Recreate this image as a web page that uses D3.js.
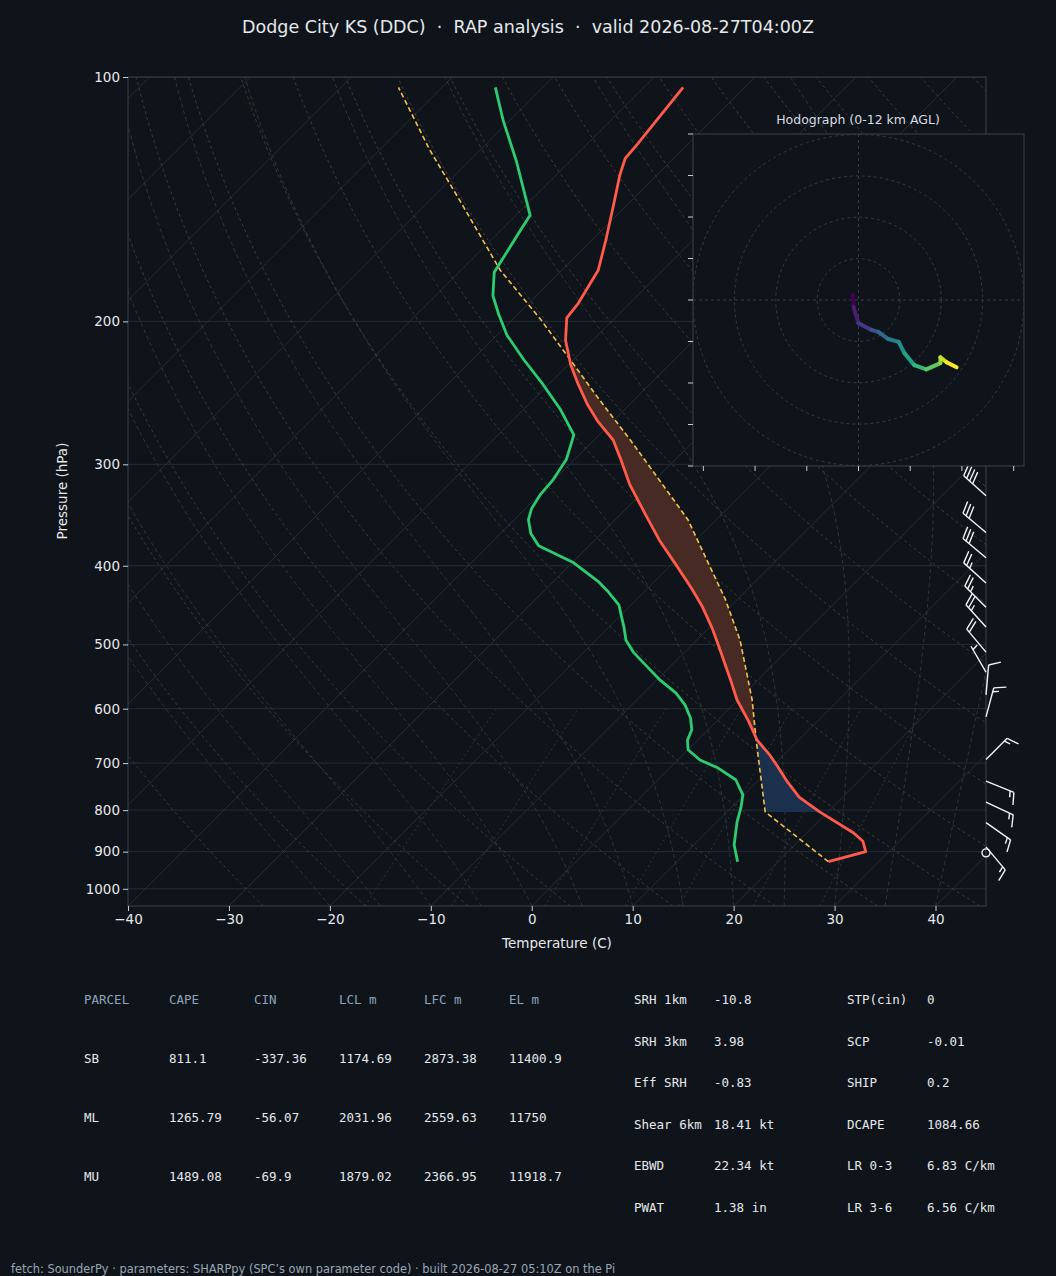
<!DOCTYPE html>
<html>
<head>
<meta charset="utf-8">
<script src="https://d3js.org/d3.v7.min.js"></script>
<style>
  html, body { margin: 0; padding: 0; background: #0f141b; }
  svg { display: block; }
  text { font-family: 'DejaVu Sans', sans-serif; }
  .mono { font-family: 'DejaVu Sans Mono', monospace; font-size: 12.5px; }
</style>
</head>
<body>
<svg id="chart" width="1056" height="1276"></svg>
<script>
  /* sounding: pressure (hPa), temperature (C) */
  const sounding = {
    temp: [[926,25.0],[900,27.7],[874,26.4],[853,24.6],[804,19.2],[771,15.7],[738,13.0],[704,10.3],[684,8.6],[656,5.9],[622,3.2],[585,-0.1],[553,-2.7],[508,-6.7],[477,-9.7],[448,-12.9],[426,-15.7],[399,-19.5],[372,-23.6],[346,-27.5],[318,-32.0],[296,-35.4],[280,-38.1],[265,-41.6],[253,-44.2],[239,-47.1],[226,-49.8],[211,-52.7],[198,-54.8],[190,-55.1],[173,-56.4],[159,-58.6],[144,-61.3],[132,-63.7],[126,-64.8],[121,-65.0],[103,-66.1]],
    dewp: [[926,16.0],[883,14.0],[827,12.0],[795,11.0],[766,9.9],[734,7.7],[710,4.8],[694,2.2],[674,0.0],[656,-1.0],[637,-1.6],[616,-2.9],[594,-4.7],[574,-6.8],[553,-9.7],[534,-12.1],[511,-15.1],[494,-17.0],[476,-18.5],[447,-21.2],[431,-23.5],[418,-25.6],[396,-30.0],[378,-35.0],[365,-37.0],[351,-38.6],[340,-39.4],[327,-39.9],[314,-40.1],[296,-40.8],[276,-42.5],[257,-46.3],[239,-50.6],[223,-54.9],[208,-59.0],[196,-61.9],[186,-64.3],[174,-66.5],[154,-68.1],[148,-68.6],[127,-75.3],[113,-80.7],[103,-84.7]],
    parcel: [[926,25.0],[804,13.8],[656,5.8],[585,1.4],[494,-5.7],[440,-11.2],[393,-17.0],[351,-22.8],[314,-29.5],[280,-36.4],[250,-43.4],[223,-50.3],[199,-57.2],[173,-66.1],[142,-77.0],[123,-85.0],[103,-94.3]],
    lcl: 804,
    el: 226,
    // [pressure, direction from (deg), speed kt]
    wind: [[903,0,0],[888,140,15],[829,125,15],[782,115,15],[737,112,15],[693,45,15],[614,15,15],[577,5,10],[541,330,5],[511,320,20],[476,318,25],[450,315,25],[420,312,25],[391,310,30],[364,310,30],[328,312,40]],
    // hodograph u, v (0-12 km)
    hodo: [[-1.4,1.2],[-1.2,-1.7],[0,-5.6],[3.1,-7.2],[4.8,-7.7],[7.2,-9.4],[9.7,-10.1],[11.1,-12.8],[13.5,-15.7],[16.4,-16.7],[19.8,-15.2],[19.8,-13.8],[21.3,-15.0],[23.7,-16.2]]
  };

  const parcels = [
    ['SB','811.1','-337.36','1174.69','2873.38','11400.9'],
    ['ML','1265.79','-56.07','2031.96','2559.63','11750'],
    ['MU','1489.08','-69.9','1879.02','2366.95','11918.7']
  ];
  const params = [
    ['SRH 1km','-10.8','STP(cin)','0'],
    ['SRH 3km','3.98','SCP','-0.01'],
    ['Eff SRH','-0.83','SHIP','0.2'],
    ['Shear 6km','18.41 kt','DCAPE','1084.66'],
    ['EBWD','22.34 kt','LR 0-3','6.83 C/km'],
    ['PWAT','1.38 in','LR 3-6','6.56 C/km']
  ];

  const svg = d3.select('#chart');
  svg.append('rect').attr('width',1056).attr('height',1276).attr('fill','#0f141b');

  const L = 128, R = 986, T = 77, B = 906;
  const xT = d3.scaleLinear().domain([-40,45]).range([L,R]);
  const yP = d3.scaleLog().domain([1050,100]).range([B,T]);
  const sx = (t,p) => xT(t) + (B - yP(p));

  svg.append('text').attr('x',528).attr('y',33).attr('text-anchor','middle')
    .attr('fill','#e6e8eb').attr('font-size',17.5).attr('xml:space','preserve')
    .text('Dodge City KS (DDC)\u00a0 · \u00a0RAP analysis\u00a0 · \u00a0valid 2026-08-27T04:00Z');

  svg.append('clipPath').attr('id','clip').append('rect')
    .attr('x',L).attr('y',T).attr('width',R-L).attr('height',B-T);
  const g = svg.append('g').attr('clip-path','url(#clip)');

  const line = d3.line().x(d => sx(d[1],d[0])).y(d => yP(d[0]));
  const pGrid = d3.range(0,61).map(i => 1050*Math.pow(100/1050,i/60));

  // isobars
  [100,200,300,400,500,600,700,800,900,1000].forEach(p => {
    g.append('line').attr('x1',L).attr('x2',R).attr('y1',yP(p)).attr('y2',yP(p))
      .attr('stroke','#252c35').attr('stroke-width',1);
  });
  // isotherms
  d3.range(-130,60,10).forEach(t => {
    g.append('path').attr('d',line([[1050,t],[100,t]]))
      .attr('stroke','#262d36').attr('stroke-width',1).attr('fill','none');
  });
  // dry adiabats
  d3.range(-30,200,10).forEach(th => {
    const pts = pGrid.map(p => [p,(th+273.15)*Math.pow(p/1000,0.2857)-273.15]);
    g.append('path').attr('d',line(pts)).attr('fill','none')
      .attr('stroke','#4a3e30').attr('stroke-width',0.9).attr('stroke-dasharray','3,3');
  });
  // moist adiabats
  function rs(tc,p){ const e = 6.112*Math.exp(17.67*tc/(tc+243.5)); return 0.622*e/(p-e); }
  function moist(t0){
    const out = [[1050,t0]]; let t = t0+273.15, p = 1050;
    while (p > 100){
      const r = rs(t-273.15,p);
      const dTdp = (287*t + 2.5e6*r)/(p*(1004 + 2.5e6*2.5e6*r*0.622/(287*t*t)));
      const dp = -5; t += dTdp*dp; p += dp; out.push([p,t-273.15]);
    }
    return out;
  }
  d3.range(-20,45,5).forEach(t0 => {
    g.append('path').attr('d',line(moist(t0))).attr('fill','none')
      .attr('stroke','#2c4038').attr('stroke-width',0.9).attr('stroke-dasharray','4,3');
  });
  // mixing ratio lines
  [1,2,4,7,10,16,24].forEach(w => {
    const pts = d3.range(1050,590,-10).map(p => {
      const e = w*p/(622+w), a = Math.log(e/6.112);
      return [p,243.5*a/(17.67-a)];
    });
    g.append('path').attr('d',line(pts)).attr('fill','none')
      .attr('stroke','#34404c').attr('stroke-width',0.8).attr('stroke-dasharray','2,3');
  });

  // CAPE / CIN shading between LCL and EL
  function interp(arr,p){
    for (let i=0;i<arr.length-1;i++){
      const a=arr[i], b=arr[i+1];
      if (p<=a[0] && p>=b[0]){
        const f=(Math.log(p)-Math.log(a[0]))/(Math.log(b[0])-Math.log(a[0]));
        return a[1]+f*(b[1]-a[1]);
      }
    }
    return NaN;
  }
  const shadeP = d3.range(0,301).map(i => sounding.lcl*Math.pow(sounding.el/sounding.lcl,i/300));
  let seg = [], sign = 0;
  function flush(){
    if (seg.length>1){
      const poly = seg.map(d => [sx(d[1],d[0]),yP(d[0])])
        .concat(seg.slice().reverse().map(d => [sx(d[2],d[0]),yP(d[0])]));
      g.append('path').attr('d','M'+poly.join('L')+'Z')
        .attr('fill', sign>0 ? '#4a2b24' : '#1b3250').attr('opacity',0.95);
    }
    seg = [];
  }
  shadeP.forEach(p => {
    const tp = interp(sounding.parcel,p), te = interp(sounding.temp,p);
    const s = tp>te ? 1 : -1;
    if (s!==sign){ if (seg.length) seg.push([p,tp,te]); flush(); sign=s; }
    seg.push([p,tp,te]);
  });
  flush();

  g.append('path').attr('d',line(sounding.parcel)).attr('fill','none')
    .attr('stroke','#f2c14e').attr('stroke-width',1.6).attr('stroke-dasharray','5,3');
  g.append('path').attr('d',line(sounding.dewp)).attr('fill','none')
    .attr('stroke','#2ecc71').attr('stroke-width',2.8).attr('stroke-linejoin','round');
  g.append('path').attr('d',line(sounding.temp)).attr('fill','none')
    .attr('stroke','#ff5a4a').attr('stroke-width',2.8).attr('stroke-linejoin','round');

  // frame and axes
  svg.append('rect').attr('x',L).attr('y',T).attr('width',R-L).attr('height',B-T)
    .attr('fill','none').attr('stroke','#39424e');
  const yAxis = svg.append('g').attr('transform',`translate(${L},0)`)
    .call(d3.axisLeft(yP).tickValues([100,200,300,400,500,600,700,800,900,1000]).tickFormat(d3.format('d')).tickSize(5));
  const xAxis = svg.append('g').attr('transform',`translate(0,${B})`)
    .call(d3.axisBottom(xT).tickValues(d3.range(-40,41,10)).tickFormat(d => d<0 ? '\u2212'+(-d) : d).tickSize(5));
  [yAxis,xAxis].forEach(a => {
    a.select('.domain').remove();
    a.selectAll('line').attr('stroke','#c8ccd2');
    a.selectAll('text').attr('fill','#e6e8eb').attr('font-size',13.5).attr('font-family','DejaVu Sans');
  });
  svg.append('text').attr('x',557).attr('y',948).attr('text-anchor','middle')
    .attr('fill','#e6e8eb').attr('font-size',13.5).text('Temperature (C)');
  svg.append('text').attr('transform','translate(67,491) rotate(-90)').attr('text-anchor','middle')
    .attr('fill','#e6e8eb').attr('font-size',13.5).text('Pressure (hPa)');

  // wind barbs along the right edge
  const bg = svg.append('g').attr('stroke','#f2f4f6').attr('stroke-width',1.4).attr('fill','none');
  sounding.wind.forEach(([p,dir,spd]) => {
    const x0 = R, y0 = yP(p);
    if (spd < 2.5){ bg.append('circle').attr('cx',x0).attr('cy',y0).attr('r',4); return; }
    const a = dir*Math.PI/180, len = 30;
    const ux = Math.sin(a), uy = -Math.cos(a);
    const fx = -uy, fy = ux;
    bg.append('line').attr('x1',x0).attr('y1',y0).attr('x2',x0+ux*len).attr('y2',y0+uy*len);
    let s = Math.round(spd/5)*5, pos = len;
    const full = 12;
    while (s>=10){
      const bx = x0+ux*pos, by = y0+uy*pos;
      bg.append('line').attr('x1',bx).attr('y1',by)
        .attr('x2',bx+fx*full+ux*4).attr('y2',by+fy*full+uy*4);
      pos -= 4; s -= 10;
    }
    if (s>=5){
      if (pos===len) pos -= 4;
      const bx = x0+ux*pos, by = y0+uy*pos;
      bg.append('line').attr('x1',bx).attr('y1',by)
        .attr('x2',bx+fx*full/2+ux*2).attr('y2',by+fy*full/2+uy*2);
    }
  });

  // hodograph inset
  const hx0 = 693, hx1 = 1024, hy0 = 134, hy1 = 466;
  const hu = d3.scaleLinear().domain([-40,40]).range([hx0,hx1]);
  const hv = d3.scaleLinear().domain([-40,40]).range([hy1,hy0]);
  const h = svg.append('g');
  h.append('rect').attr('x',hx0).attr('y',hy0).attr('width',hx1-hx0).attr('height',hy1-hy0)
    .attr('fill','#0f141b').attr('stroke','#39424e');
  h.append('text').attr('x',858).attr('y',124).attr('text-anchor','middle')
    .attr('fill','#d8dbe0').attr('font-size',12.5).text('Hodograph (0-12 km AGL)');
  h.append('clipPath').attr('id','hclip').append('rect')
    .attr('x',hx0).attr('y',hy0).attr('width',hx1-hx0).attr('height',hy1-hy0);
  const hg = h.append('g').attr('clip-path','url(#hclip)');
  [10,20,30,40].forEach(r => {
    hg.append('circle').attr('cx',hu(0)).attr('cy',hv(0)).attr('r',hu(r)-hu(0))
      .attr('fill','none').attr('stroke','#333d49').attr('stroke-dasharray','3,3');
  });
  hg.append('line').attr('x1',hx0).attr('x2',hx1).attr('y1',hv(0)).attr('y2',hv(0))
    .attr('stroke','#333d49').attr('stroke-dasharray','3,3');
  hg.append('line').attr('y1',hy0).attr('y2',hy1).attr('x1',hu(0)).attr('x2',hu(0))
    .attr('stroke','#333d49').attr('stroke-dasharray','3,3');
  d3.range(-40,41,10).forEach(v => {
    h.append('line').attr('x1',hx0-5).attr('x2',hx0).attr('y1',hv(v)).attr('y2',hv(v)).attr('stroke','#c8ccd2');
  });
  d3.range(-37.5,38,12.5).forEach(u => {
    h.append('line').attr('x1',hu(u)).attr('x2',hu(u)).attr('y1',hy1).attr('y2',hy1+5).attr('stroke','#c8ccd2');
  });
  const hd = sounding.hodo, n = hd.length;
  for (let i=0;i<n-1;i++){
    hg.append('line').attr('x1',hu(hd[i][0])).attr('y1',hv(hd[i][1]))
      .attr('x2',hu(hd[i+1][0])).attr('y2',hv(hd[i+1][1]))
      .attr('stroke',d3.interpolateViridis(i/(n-2))).attr('stroke-width',4).attr('stroke-linecap','round');
  }

  // parcel table
  const tb = svg.append('g');
  const cols = [84,169,254,339,424,509];
  ['PARCEL','CAPE','CIN','LCL m','LFC m','EL m'].forEach((t,i) => {
    tb.append('text').attr('class','mono').attr('x',cols[i]).attr('y',1004).attr('fill','#8fa3bb').text(t);
  });
  parcels.forEach((row,r) => row.forEach((t,i) => {
    tb.append('text').attr('class','mono').attr('x',cols[i]).attr('y',1063+r*59).attr('fill','#e6e8eb').text(t);
  }));
  params.forEach((row,r) => {
    [634,714,847,927].forEach((x,i) => {
      tb.append('text').attr('class','mono').attr('x',x).attr('y',1004+r*41.5).attr('fill','#e6e8eb').text(row[i]);
    });
  });

  svg.append('text').attr('x',11).attr('y',1273).attr('fill','#9aa6b4').attr('font-size',11.4)
    .text('fetch: SounderPy · parameters: SHARPpy (SPC\u2019s own parameter code) · built 2026-08-27 05:10Z on the Pi');
</script>
</body>
</html>
